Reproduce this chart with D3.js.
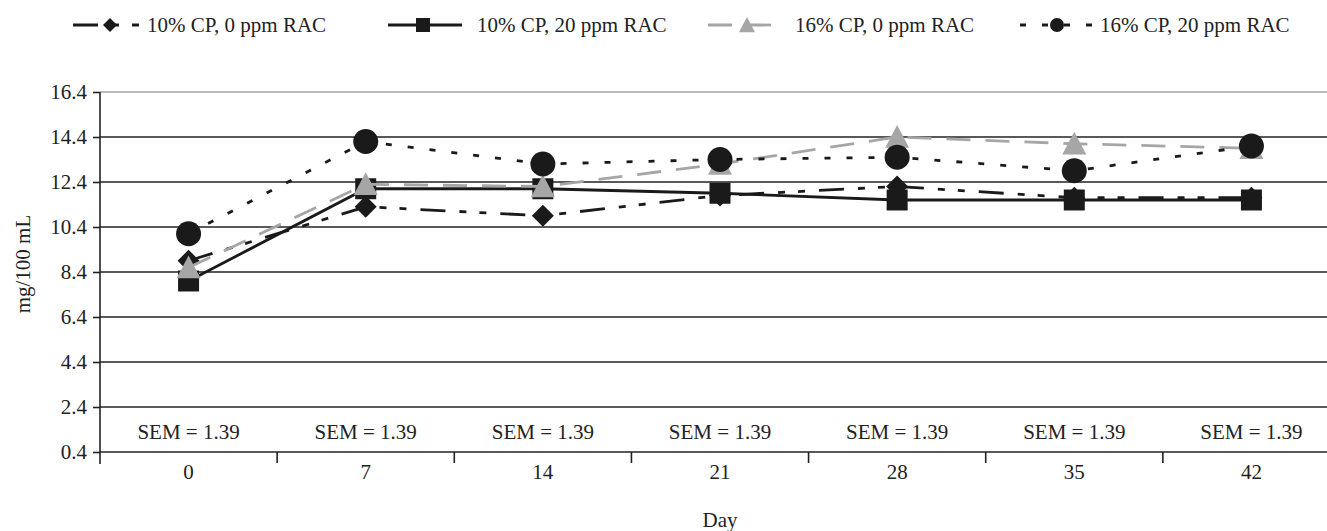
<!DOCTYPE html>
<html>
<head>
<meta charset="utf-8">
<script src="https://cdn.jsdelivr.net/npm/d3@7"></script>
<style>
  body { margin: 0; background: #fff; }
  svg { display: block; font-family: 'Liberation Serif', serif; }
</style>
</head>
<body>
<div id="chart"></div>
<script>
/* global d3 */

const WIDTH = 1327
const HEIGHT = 531

// chart values
const days = ['0', '7', '14', '21', '28', '35', '42']
const semLabels = ['SEM = 1.39', 'SEM = 1.39', 'SEM = 1.39', 'SEM = 1.39', 'SEM = 1.39', 'SEM = 1.39', 'SEM = 1.39']
const yTicks = [0.4, 2.4, 4.4, 6.4, 8.4, 10.4, 12.4, 14.4, 16.4]

const seriesNames = ['10% CP, 0 ppm RAC', '10% CP, 20 ppm RAC', '16% CP, 0 ppm RAC', '16% CP, 20 ppm RAC']
const cp10rac0 = [8.9, 11.3, 10.9, 11.8, 12.2, 11.7, 11.7]
const cp10rac20 = [8.0, 12.1, 12.1, 11.9, 11.6, 11.6, 11.6]
const cp16rac0 = [8.6, 12.3, 12.2, 13.2, 14.4, 14.1, 13.9]
const cp16rac20 = [10.1, 14.2, 13.2, 13.4, 13.5, 12.9, 14.0]

// look of each series (kept apart from the values)
const styles = [
  { color: '#1a1a1a', dash: '25,14,7,13,7,14', marker: 'diamond', size: 11, legendSize: 7 },
  { color: '#1a1a1a', dash: null, marker: 'square', size: 10.5, legendSize: 7 },
  { color: '#a6a6a6', dash: '24,15', marker: 'triangle', size: 12, legendSize: 8 },
  { color: '#1a1a1a', dash: '6,16', marker: 'circle', size: 12.5, legendSize: 7 }
]
const seriesValues = [cp10rac0, cp10rac20, cp16rac0, cp16rac20]

const svg = d3.select('#chart')
  .append('svg')
  .attr('width', WIDTH)
  .attr('height', HEIGHT)

const x = d3.scaleBand().domain(days).range([100, 1340]).padding(0)
const y = d3.scaleLinear().domain([0.4, 16.4]).range([452, 92])
const cx = (d) => x(d) + x.bandwidth() / 2

function markerPath (type, r) {
  if (type === 'diamond') return `M0,${-r}L${r},0L0,${r}L${-r},0Z`
  if (type === 'square') return `M${-r},${-r}H${r}V${r}H${-r}Z`
  if (type === 'triangle') return `M0,${-r}L${r},${r * 0.9}H${-r}Z`
  return d3.arc()({ innerRadius: 0, outerRadius: r, startAngle: 0, endAngle: 2 * Math.PI })
}

// gridlines
svg.append('g')
  .selectAll('line')
  .data(yTicks)
  .join('line')
  .attr('x1', 100)
  .attr('x2', WIDTH)
  .attr('y1', (d) => y(d))
  .attr('y2', (d) => y(d))
  .style('stroke', (d) => d === 16.4 ? '#777' : '#222')
  .style('stroke-width', (d) => d === 16.4 ? 1.2 : 1.6)

// y axis
const yAxis = svg.append('g')
  .attr('transform', 'translate(100,0)')
  .call(d3.axisLeft(y).tickValues(yTicks).tickFormat(d3.format('.1f')).tickSize(7).tickSizeOuter(0).tickPadding(6))
yAxis.select('.domain').remove()
yAxis.selectAll('.tick line').style('stroke', '#222').style('stroke-width', 1.6)
yAxis.selectAll('text')
  .style('font-family', "'Liberation Serif', serif")
  .style('font-size', '21px')
  .style('fill', '#222')

svg.append('line')
  .attr('x1', 100).attr('x2', 100)
  .attr('y1', y(16.4)).attr('y2', 464)
  .style('stroke', '#222').style('stroke-width', 1.6)

// x axis: ticks at the band edges
svg.append('g')
  .selectAll('line')
  .data(days.slice(1).concat(['end']))
  .join('line')
  .attr('x1', (d) => d === 'end' ? x.range()[1] : x(d))
  .attr('x2', (d) => d === 'end' ? x.range()[1] : x(d))
  .attr('y1', y(0.4))
  .attr('y2', 463)
  .style('stroke', '#222')
  .style('stroke-width', 1.6)

svg.append('g')
  .selectAll('text')
  .data(days)
  .join('text')
  .attr('x', cx)
  .attr('y', 479)
  .attr('text-anchor', 'middle')
  .style('font-size', '21px')
  .style('fill', '#222')
  .text((d) => d)

// SEM labels inside the plot
svg.append('g')
  .selectAll('text')
  .data(semLabels)
  .join('text')
  .attr('x', (d, i) => cx(days[i]))
  .attr('y', 439)
  .attr('text-anchor', 'middle')
  .style('font-size', '21px')
  .style('fill', '#222')
  .text((d) => d)

// axis titles
svg.append('text')
  .attr('transform', 'translate(30,264) rotate(-90)')
  .attr('text-anchor', 'middle')
  .style('font-size', '21px')
  .style('fill', '#222')
  .text('mg/100 mL')

svg.append('text')
  .attr('x', 720)
  .attr('y', 527)
  .attr('text-anchor', 'middle')
  .style('font-size', '21px')
  .style('fill', '#222')
  .text('Day')

// series
const line = d3.line()
  .x((d, i) => cx(days[i]))
  .y((d) => y(d))

seriesValues.forEach((values, s) => {
  const st = styles[s]
  const g = svg.append('g')
  g.append('path')
    .datum(values)
    .attr('d', line)
    .style('fill', 'none')
    .style('stroke', st.color)
    .style('stroke-width', 2.8)
    .style('stroke-dasharray', st.dash)
  g.selectAll('path.marker')
    .data(values)
    .join('path')
    .attr('class', 'marker')
    .attr('transform', (d, i) => `translate(${cx(days[i])},${y(d)})`)
    .attr('d', markerPath(st.marker, st.size))
    .style('fill', st.color)
})

// legend
const legendX = [
  { x0: 73, x1: 142, m: 110, t: 147 },
  { x0: 388, x1: 462, m: 423, t: 477 },
  { x0: 708, x1: 773, m: 747, t: 795 },
  { x0: 1020, x1: 1092, m: 1057, t: 1100 }
]
const legend = svg.append('g')
  .selectAll('g')
  .data(seriesNames)
  .join('g')

legend.append('line')
  .attr('x1', (d, i) => legendX[i].x0)
  .attr('x2', (d, i) => legendX[i].x1)
  .attr('y1', 25)
  .attr('y2', 25)
  .style('stroke', (d, i) => styles[i].color)
  .style('stroke-width', 2.8)
  .style('stroke-dasharray', (d, i) => styles[i].dash)

legend.append('path')
  .attr('transform', (d, i) => `translate(${legendX[i].m},25)`)
  .attr('d', (d, i) => markerPath(styles[i].marker, styles[i].legendSize))
  .style('fill', (d, i) => styles[i].color)

legend.append('text')
  .attr('x', (d, i) => legendX[i].t)
  .attr('y', 32)
  .style('font-size', '21px')
  .style('fill', '#222')
  .text((d) => d)
</script>
</body>
</html>
